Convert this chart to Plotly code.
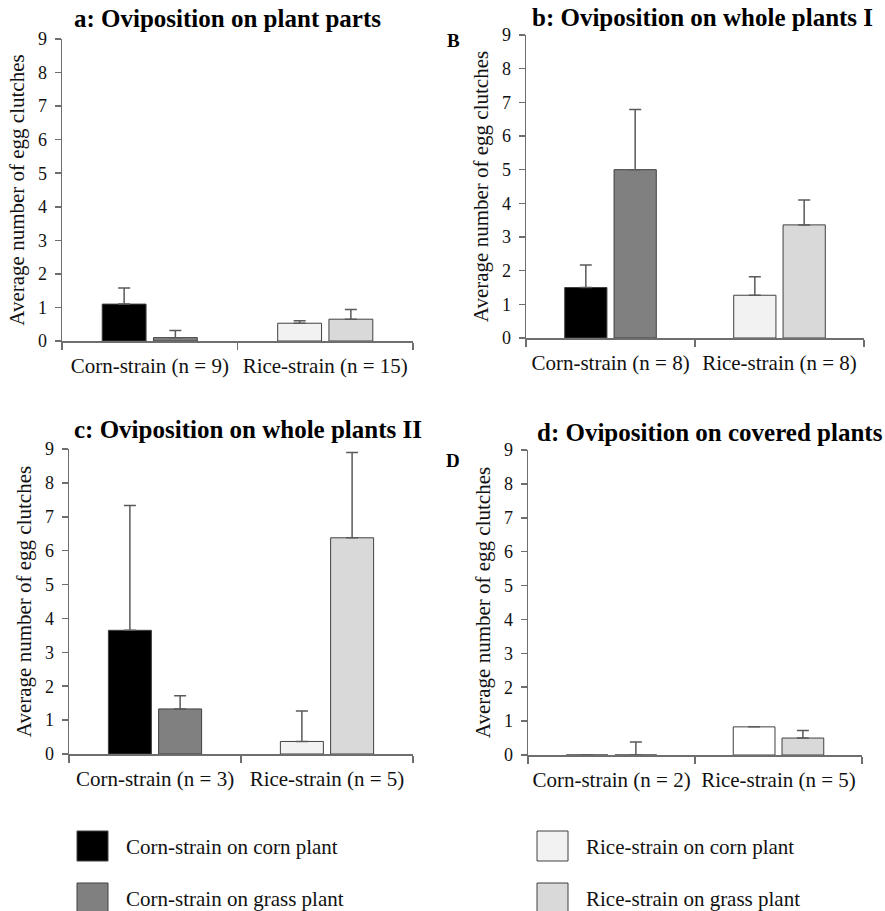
import plotly.graph_objects as go

W, H = 885, 911

# ---------------- data ----------------
panel_titles = ["a: Oviposition on plant parts", "b: Oviposition on whole plants I",
                "c: Oviposition on whole plants II", "d: Oviposition on covered plants"]
group_labels = [["Corn-strain (n = 9)", "Rice-strain (n = 15)"],
                ["Corn-strain (n = 8)", "Rice-strain (n = 8)"],
                ["Corn-strain (n = 3)", "Rice-strain (n = 5)"],
                ["Corn-strain (n = 2)", "Rice-strain (n = 5)"]]
# bars on corn plant: [corn-strain, rice-strain]
on_corn = [[1.10, 0.53], [1.50, 1.27], [3.65, 0.37], [0.00, 0.83]]
on_corn_err = [[0.48, 0.07], [0.67, 0.55], [3.68, 0.90], [0.00, 0.00]]
# bars on grass plant: [corn-strain, rice-strain]
on_grass = [[0.10, 0.65], [5.00, 3.36], [1.33, 6.38], [0.00, 0.50]]
on_grass_err = [[0.21, 0.29], [1.79, 0.74], [0.39, 2.52], [0.38, 0.22]]
legend_labels = ["Corn-strain on corn plant", "Corn-strain on grass plant",
                 "Rice-strain on corn plant", "Rice-strain on grass plant"]
y_ticks = list(range(0, 10))

# ---------------- styles ----------------
FONT = "Liberation Serif"
C_BLACK, C_DARK, C_LIGHT, C_GRAY = "#000000", "#808080", "#F2F2F2", "#D9D9D9"
corn_colors = [[C_BLACK, C_LIGHT], [C_BLACK, C_LIGHT], [C_BLACK, C_LIGHT], [C_BLACK, "#FFFFFF"]]
grass_colors = [[C_DARK, C_GRAY]] * 4
AX = "#6e6e6e"

# pixel boxes of the plot areas: (left, right, top(y=9), bottom(y=0))
boxes = [(62, 413, 39, 341), (526, 864, 35, 338), (69, 413, 449, 754), (528, 862, 450, 755)]
title_pos = [(227, 18), (702, 17), (248, 430), (710, 432)]
title_sizes = [25, 25, 25, 25]


def px(x):
    return x / W


def py(y):
    return 1 - y / H


fig = go.Figure()
for i in range(4):
    xa = "x" if i == 0 else f"x{i+1}"
    ya = "y" if i == 0 else f"y{i+1}"
    cats = group_labels[i]
    fig.add_trace(go.Bar(
        x=cats, y=on_corn[i], xaxis=xa, yaxis=ya, showlegend=False,
        marker=dict(color=corn_colors[i], line=dict(color="#404040", width=1)),
        error_y=dict(type="data", symmetric=False, array=on_corn_err[i],
                     arrayminus=[0, 0], color="#5a5a5a", thickness=1.5, width=6,
                     visible=True),
    ))
    fig.add_trace(go.Bar(
        x=cats, y=on_grass[i], xaxis=xa, yaxis=ya, showlegend=False,
        marker=dict(color=grass_colors[i], line=dict(color="#404040", width=1)),
        error_y=dict(type="data", symmetric=False, array=on_grass_err[i],
                     arrayminus=[0, 0], color="#5a5a5a", thickness=1.5, width=6,
                     visible=True),
    ))
    l, r, t, b = boxes[i]
    xkey = "xaxis" if i == 0 else f"xaxis{i+1}"
    ykey = "yaxis" if i == 0 else f"yaxis{i+1}"
    fig.layout[xkey] = dict(
        domain=[px(l), px(r)], anchor=ya, type="category", range=[-0.5, 1.5],
        tickson="boundaries", ticks="outside", ticklen=7, tickcolor=AX, tickwidth=1.5,
        showline=True, linecolor=AX, linewidth=1.5, showgrid=False, zeroline=False,
        tickfont=dict(family=FONT, size=21, color="#111"), tickangle=0, fixedrange=True,
        automargin=False, ticklabelstandoff=5,
    )
    fig.layout[ykey] = dict(
        domain=[py(b), py(t)], anchor=xa, range=[0, 9], tickvals=y_ticks,
        ticks="outside", ticklen=6, tickcolor=AX, tickwidth=1.5,
        showline=True, linecolor=AX, linewidth=1.5, showgrid=False, zeroline=False,
        tickfont=dict(family=FONT, size=18, color="#111"),
        title=dict(text="Average number of egg clutches",
                   font=dict(family=FONT, size=21, color="#111"), standoff=7),
        fixedrange=True, automargin=False, ticklabelstandoff=4,
    )
    tx, ty = title_pos[i]
    fig.add_annotation(xref="paper", yref="paper", x=px(tx), y=py(ty),
                       text=f"<b>{panel_titles[i]}</b>", showarrow=False,
                       xanchor="center", yanchor="middle",
                       font=dict(family=FONT, size=title_sizes[i], color="#000"))

# stray panel letters
for letter, (lx, ly) in zip(["B", "D"], [(453, 40), (453, 460)]):
    fig.add_annotation(xref="paper", yref="paper", x=px(lx), y=py(ly),
                       text=f"<b>{letter}</b>", showarrow=False,
                       xanchor="center", yanchor="middle",
                       font=dict(family=FONT, size=19, color="#000"))

# legend (drawn manually with large swatches)
legend_colors = [C_BLACK, C_DARK, C_LIGHT, C_GRAY]
legend_spots = [(77, 831), (77, 883), (537, 831), (537, 883)]
for lab, col, (sx, sy) in zip(legend_labels, legend_colors, legend_spots):
    fig.add_shape(type="rect", xref="paper", yref="paper",
                  x0=px(sx), x1=px(sx + 31), y0=py(sy), y1=py(sy + 30),
                  fillcolor=col, line=dict(color="#404040", width=1))
    fig.add_annotation(xref="paper", yref="paper", x=px(sx + 47), y=py(sy + 16),
                       text=lab, showarrow=False, xanchor="left", yanchor="middle",
                       font=dict(family=FONT, size=21, color="#111"))

fig.update_layout(
    width=W, height=H, margin=dict(l=0, r=0, t=0, b=0, autoexpand=False),
    paper_bgcolor="white", plot_bgcolor="white",
    barmode="group", bargap=0.416, bargroupgap=0.144,
    showlegend=False,
)

fig.write_html(
    "out.html",
    config={"displayModeBar": False, "staticPlot": True},
    post_script="document.body.style.margin='0';document.body.style.overflow='hidden';",
)
